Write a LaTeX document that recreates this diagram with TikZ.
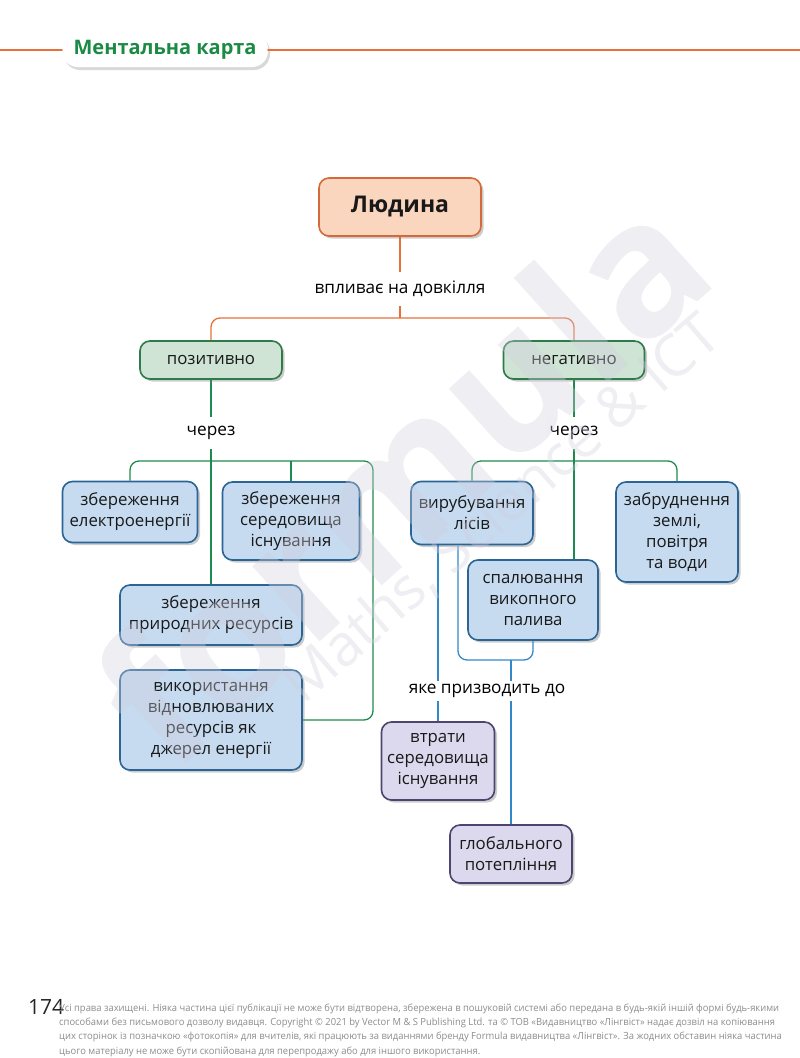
\documentclass[tikz,border=0pt]{standalone}
\usepackage{fontspec}
\setmainfont{Open Sans}
\newfontfamily\footfont[FakeStretch=0.96]{Open Sans}
\usepackage{xcolor}
\usepackage{tikz}
\usetikzlibrary{positioning,shadows,backgrounds}
\definecolor{humanfill}{HTML}{FBD6BF}
\definecolor{humandraw}{HTML}{D6693A}
\definecolor{wayfill}{HTML}{CFE4D4}
\definecolor{waydraw}{HTML}{2D7A4B}
\definecolor{itemfill}{HTML}{C6DBF0}
\definecolor{itemdraw}{HTML}{2A6596}
\definecolor{resultfill}{HTML}{DCD9EE}
\definecolor{resultdraw}{HTML}{4D4470}
\definecolor{linkorange}{HTML}{E8703A}
\definecolor{linkgreen}{HTML}{1E8A4E}
\definecolor{linkblue}{HTML}{3389C8}
\definecolor{titlegreen}{HTML}{1A8A44}
\definecolor{wmcolor}{HTML}{CFCFDE}
\tikzset{
  boxbase/.style={rounded corners=10pt, line width=1.6pt, align=center, inner sep=2pt,
    font=\fontsize{16.8}{21}\selectfont, text=black!90,
    drop shadow={shadow xshift=2.5pt, shadow yshift=-2.5pt, opacity=0.4}},
  humanbox/.style={boxbase, draw=humandraw, fill=humanfill, font=\bfseries\fontsize{23}{27}\selectfont},
  waybox/.style={boxbase, draw=waydraw, fill=wayfill},
  itembox/.style={boxbase, draw=itemdraw, fill=itemfill},
  resultbox/.style={boxbase, draw=resultdraw, fill=resultfill},
  linktext/.style={fill=white, inner xsep=4pt, inner ysep=9pt, font=\fontsize{17.2}{21}\selectfont},
  orangeline/.style={draw=linkorange, line width=1.3pt, rounded corners=9pt},
  greenline/.style={draw=linkgreen, line width=1.3pt, rounded corners=9pt},
  blueline/.style={draw=linkblue, line width=1.3pt, rounded corners=9pt},
  titlepill/.style={fill=white, rounded corners=16pt, minimum width=206pt, minimum height=34pt,
    font=\bfseries\fontsize{20}{23}\selectfont, text=titlegreen,
    drop shadow={shadow xshift=2pt, shadow yshift=-3pt, opacity=0.3}},
  wmark/.style={text=wmcolor, opacity=0.36},
  every picture/.style={line cap=round, line join=round}
}

\begin{document}
\begin{tikzpicture}[x=1pt,y=-1pt]
  \useasboundingbox (0,0) rectangle (800,1058);

  % title
  \node[titlepill] (title) at (165,50) {Ментальна карта};
  \coordinate (lineL) at (0,50);
  \coordinate (lineR) at (800,50);
  \draw[orangeline, line width=2.4pt] (lineL) -- (title) -- (lineR);

  % top
  \node[humanbox, minimum width=162pt, minimum height=58pt] (human) at (400,207) {Людина};
  \node[linktext] (t0) at (400,289) {впливає на довкілля};
  \coordinate (split) at (400,318);
  \node[waybox, minimum width=142pt, minimum height=38pt] (pos) at (211,360) {позитивно};
  \node[waybox, minimum width=141pt, minimum height=38pt] (neg) at (574,360) {негативно};

  % positive
  \node[linktext] (t1) at (211,433) {через};
  \coordinate (pturn) at (373,461);
  \node[itembox, minimum width=135pt, minimum height=61pt] (e1) at (130,512) {збереження\\електроенергії};
  \node[itembox, minimum width=137pt, minimum height=78pt] (e2) at (291,521) {збереження\\середовища\\існування};
  \node[itembox, minimum width=182pt, minimum height=60pt] (e3) at (211,615) {збереження\\природних ресурсів};
  \node[itembox, minimum width=182pt, minimum height=100pt] (e4) at (211,720) {використання\\відновлюваних\\ресурсів як\\джерел енергії};

  % negative
  \node[linktext] (t2) at (574,433) {через};
  \coordinate (nbar) at (574,461);
  \node[itembox, minimum width=122pt, minimum height=63pt] (n1) at (472,513) {вирубування\\лісів};
  \node[itembox, minimum width=130pt, minimum height=80pt] (n2) at (533,600) {спалювання\\викопного\\палива};
  \node[itembox, minimum width=122pt, minimum height=100pt] (n3) at (677,532) {забруднення\\землі,\\повітря\\та води};

  % results
  \node[linktext, inner ysep=3pt] (t3) at (487,691) {яке призводить до};
  \coordinate (bmerge) at (511,660);
  \node[resultbox, minimum width=113pt, minimum height=78pt] (r1) at (438,761) {втрати\\середовища\\існування};
  \node[resultbox, minimum width=122pt, minimum height=58pt] (r2) at (511,854) {глобального\\потепління};

  \begin{scope}[on background layer]
    \draw[orangeline] (human) -- (t0);
    \draw[orangeline] (t0) -- (split);
    \draw[orangeline] (pos.north) |- (split) -| (neg.north);
    \draw[greenline] (pos) -- (t1);
    \draw[greenline] (t1) -- (e3);
    \draw[greenline] (e1.north) |- (pturn) |- (e4.east);
    \draw[greenline] (e2.north) -- (e2.north |- pturn);
    \draw[greenline] (neg) -- (t2);
    \draw[greenline] (t2) -- (t2 |- n2.north);
    \draw[greenline] (n1.north) |- (nbar) -| (n3.north);
    \draw[blueline] (r1.north |- n1.south) -- (r1.north);
    \draw[blueline] ([xshift=-14pt]n1.south) |- (bmerge) -| (n2.south);
    \draw[blueline] (bmerge) -- (r2.north);
  \end{scope}

  % watermark
  \node[wmark, font=\bfseries\fontsize{185}{185}\selectfont, rotate=42] (wmlogo) at (400,476) {formula};
  \node[wmark, font=\fontsize{58}{58}\selectfont, rotate=41] (wmtag) at (502,509) {Maths, Science \& ICT};

  % footer
  \node[anchor=base west, inner sep=0pt, font=\fontsize{21}{24}\selectfont, text=black!85] (pagenum) at (28,1014) {174};
  \node[anchor=north west, inner sep=0pt, align=left, text=black!45,
    font=\footfont\fontsize{9.8}{14.1}\selectfont] (legal) at (59,1004)
    {Усі права захищені. Ніяка частина цієї публікації не може бути відтворена, збережена в пошуковій системі або передана в будь-якій іншій формі будь-якими\\
     способами без письмового дозволу видавця. Copyright © 2021 by Vector M \& S Publishing Ltd. та © ТОВ «Видавництво «Лінгвіст» надає дозвіл на копіювання\\
     цих сторінок із позначкою «фотокопія» для вчителів, які працюють за виданнями бренду Formula видавництва «Лінгвіст». За жодних обставин ніяка частина\\
     цього матеріалу не може бути скопійована для перепродажу або для іншого використання.};
\end{tikzpicture}
\end{document}
